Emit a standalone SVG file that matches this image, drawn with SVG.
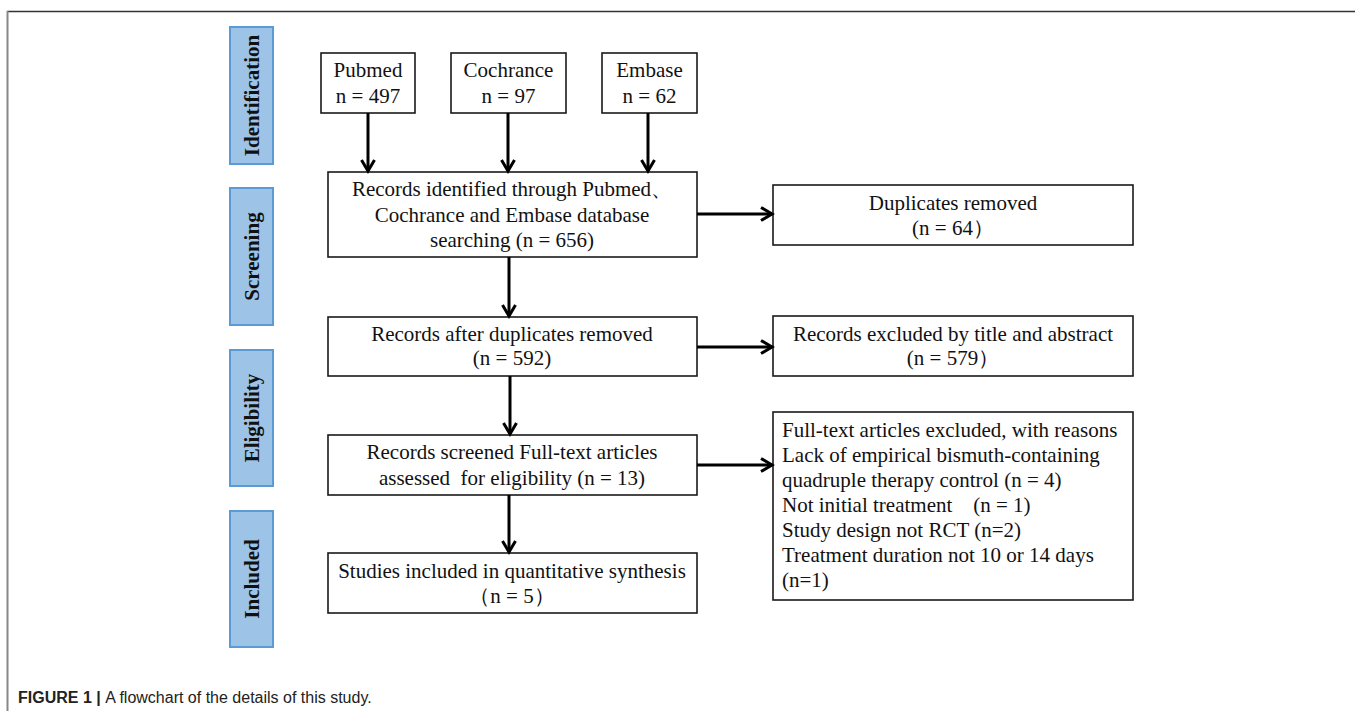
<svg xmlns="http://www.w3.org/2000/svg" width="1355" height="711" viewBox="0 0 1355 711">
<style>
.box{fill:#fff;stroke:#1a1a1a;stroke-width:1.6}
.side{fill:#9DC3E6;stroke:#5B9BD5;stroke-width:2}
.t{font-family:"Liberation Serif","Times New Roman",serif;font-size:21px;fill:#111;text-anchor:middle}
.tl{font-family:"Liberation Serif","Times New Roman",serif;font-size:21px;fill:#111;white-space:pre}
.st{font-family:"Liberation Serif","Times New Roman",serif;font-size:21px;font-weight:bold;fill:#111;text-anchor:middle}
.cap{font-family:"Liberation Sans",Arial,sans-serif;font-size:16px;fill:#222}
.c{stroke:#000;stroke-width:3;fill:none}
</style>
<defs>
<marker id="arr" viewBox="0 0 16 16" markerWidth="16" markerHeight="16" refX="13" refY="8" orient="auto" markerUnits="userSpaceOnUse">
<path d="M2,1.5 L13,8 L2,14.5" fill="none" stroke="#000" stroke-width="3"/>
</marker>
</defs>
<g id="frame">
<line x1="7" y1="11.5" x2="1355" y2="11.5" stroke="#333" stroke-width="1.3"/>
<line x1="7.5" y1="11" x2="7.5" y2="711" stroke="#888" stroke-width="2"/>
</g>
<g id="stage-identification"><rect class="side" x="230" y="27" width="43" height="137"/><text class="st" transform="translate(259,95.5) rotate(-90)">Identification</text></g>
<g id="stage-screening"><rect class="side" x="230" y="188" width="43" height="137"/><text class="st" transform="translate(259,256.5) rotate(-90)">Screening</text></g>
<g id="stage-eligibility"><rect class="side" x="230" y="350" width="43" height="136"/><text class="st" transform="translate(259,418) rotate(-90)">Eligibility</text></g>
<g id="stage-included"><rect class="side" x="230" y="511" width="43" height="136"/><text class="st" transform="translate(259,579) rotate(-90)">Included</text></g>
<g id="pubmed"><rect class="box" x="321" y="53" width="94" height="60"/><text class="t" x="368" y="77">Pubmed</text><text class="t" x="368" y="103">n = 497</text></g>
<g id="cochrance"><rect class="box" x="451" y="53" width="115" height="60"/><text class="t" x="508.5" y="77">Cochrance</text><text class="t" x="508.5" y="103">n = 97</text></g>
<g id="embase"><rect class="box" x="602" y="53" width="95" height="60"/><text class="t" x="649.5" y="77">Embase</text><text class="t" x="649.5" y="103">n = 62</text></g>
<g id="identified"><rect class="box" x="328" y="172" width="369" height="85"/><text class="t" x="512" y="196">Records identified through Pubmed、</text><text class="t" x="512" y="222">Cochrance and Embase database</text><text class="t" x="512" y="247">searching (n = 656)</text></g>
<g id="after-duplicates"><rect class="box" x="328" y="317" width="369" height="59"/><text class="t" x="512" y="341">Records after duplicates removed</text><text class="t" x="512" y="365">(n = 592)</text></g>
<g id="screened"><rect class="box" x="328" y="435" width="369" height="60"/><text class="t" x="512" y="459" style="white-space:pre">Records screened Full-text articles</text><text class="t" x="512" y="485" style="white-space:pre">assessed  for eligibility (n = 13)</text></g>
<g id="included"><rect class="box" x="328" y="553" width="369" height="60"/><text class="t" x="512" y="578">Studies included in quantitative synthesis</text><text class="t" x="512" y="603">（n = 5）</text></g>
<g id="duplicates-removed"><rect class="box" x="773" y="185" width="360" height="60"/><text class="t" x="953" y="210">Duplicates removed</text><text class="t" x="953" y="235">(n = 64）</text></g>
<g id="excluded-title"><rect class="box" x="773" y="316" width="360" height="60"/><text class="t" x="953" y="341">Records excluded by title and abstract</text><text class="t" x="953" y="365">(n = 579）</text></g>
<g id="excluded-fulltext"><rect class="box" x="773" y="412" width="360" height="188"/>
<text class="tl" x="782" y="437">Full-text articles excluded, with reasons</text>
<text class="tl" x="782" y="462">Lack of empirical bismuth-containing</text>
<text class="tl" x="782" y="487">quadruple therapy control (n = 4)</text>
<text class="tl" x="782" y="512">Not initial treatment    (n = 1)</text>
<text class="tl" x="782" y="537">Study design not RCT (n=2)</text>
<text class="tl" x="782" y="562">Treatment duration not 10 or 14 days</text>
<text class="tl" x="782" y="587">(n=1)</text>
</g>
<g id="connectors">
<line class="c" x1="368" y1="113" x2="368" y2="171" marker-end="url(#arr)"/>
<line class="c" x1="508" y1="113" x2="508" y2="171" marker-end="url(#arr)"/>
<line class="c" x1="648" y1="113" x2="648" y2="171" marker-end="url(#arr)"/>
<line class="c" x1="509" y1="257" x2="509" y2="316" marker-end="url(#arr)"/>
<line class="c" x1="510" y1="376" x2="510" y2="434" marker-end="url(#arr)"/>
<line class="c" x1="509" y1="495" x2="509" y2="552" marker-end="url(#arr)"/>
<line class="c" x1="697" y1="214" x2="772" y2="214" marker-end="url(#arr)"/>
<line class="c" x1="697" y1="347" x2="772" y2="347" marker-end="url(#arr)"/>
<line class="c" x1="697" y1="465" x2="772" y2="465" marker-end="url(#arr)"/>
</g>
<g id="caption"><text class="cap" x="18" y="703"><tspan font-weight="bold">FIGURE 1 | </tspan>A flowchart of the details of this study.</text></g>
</svg>
